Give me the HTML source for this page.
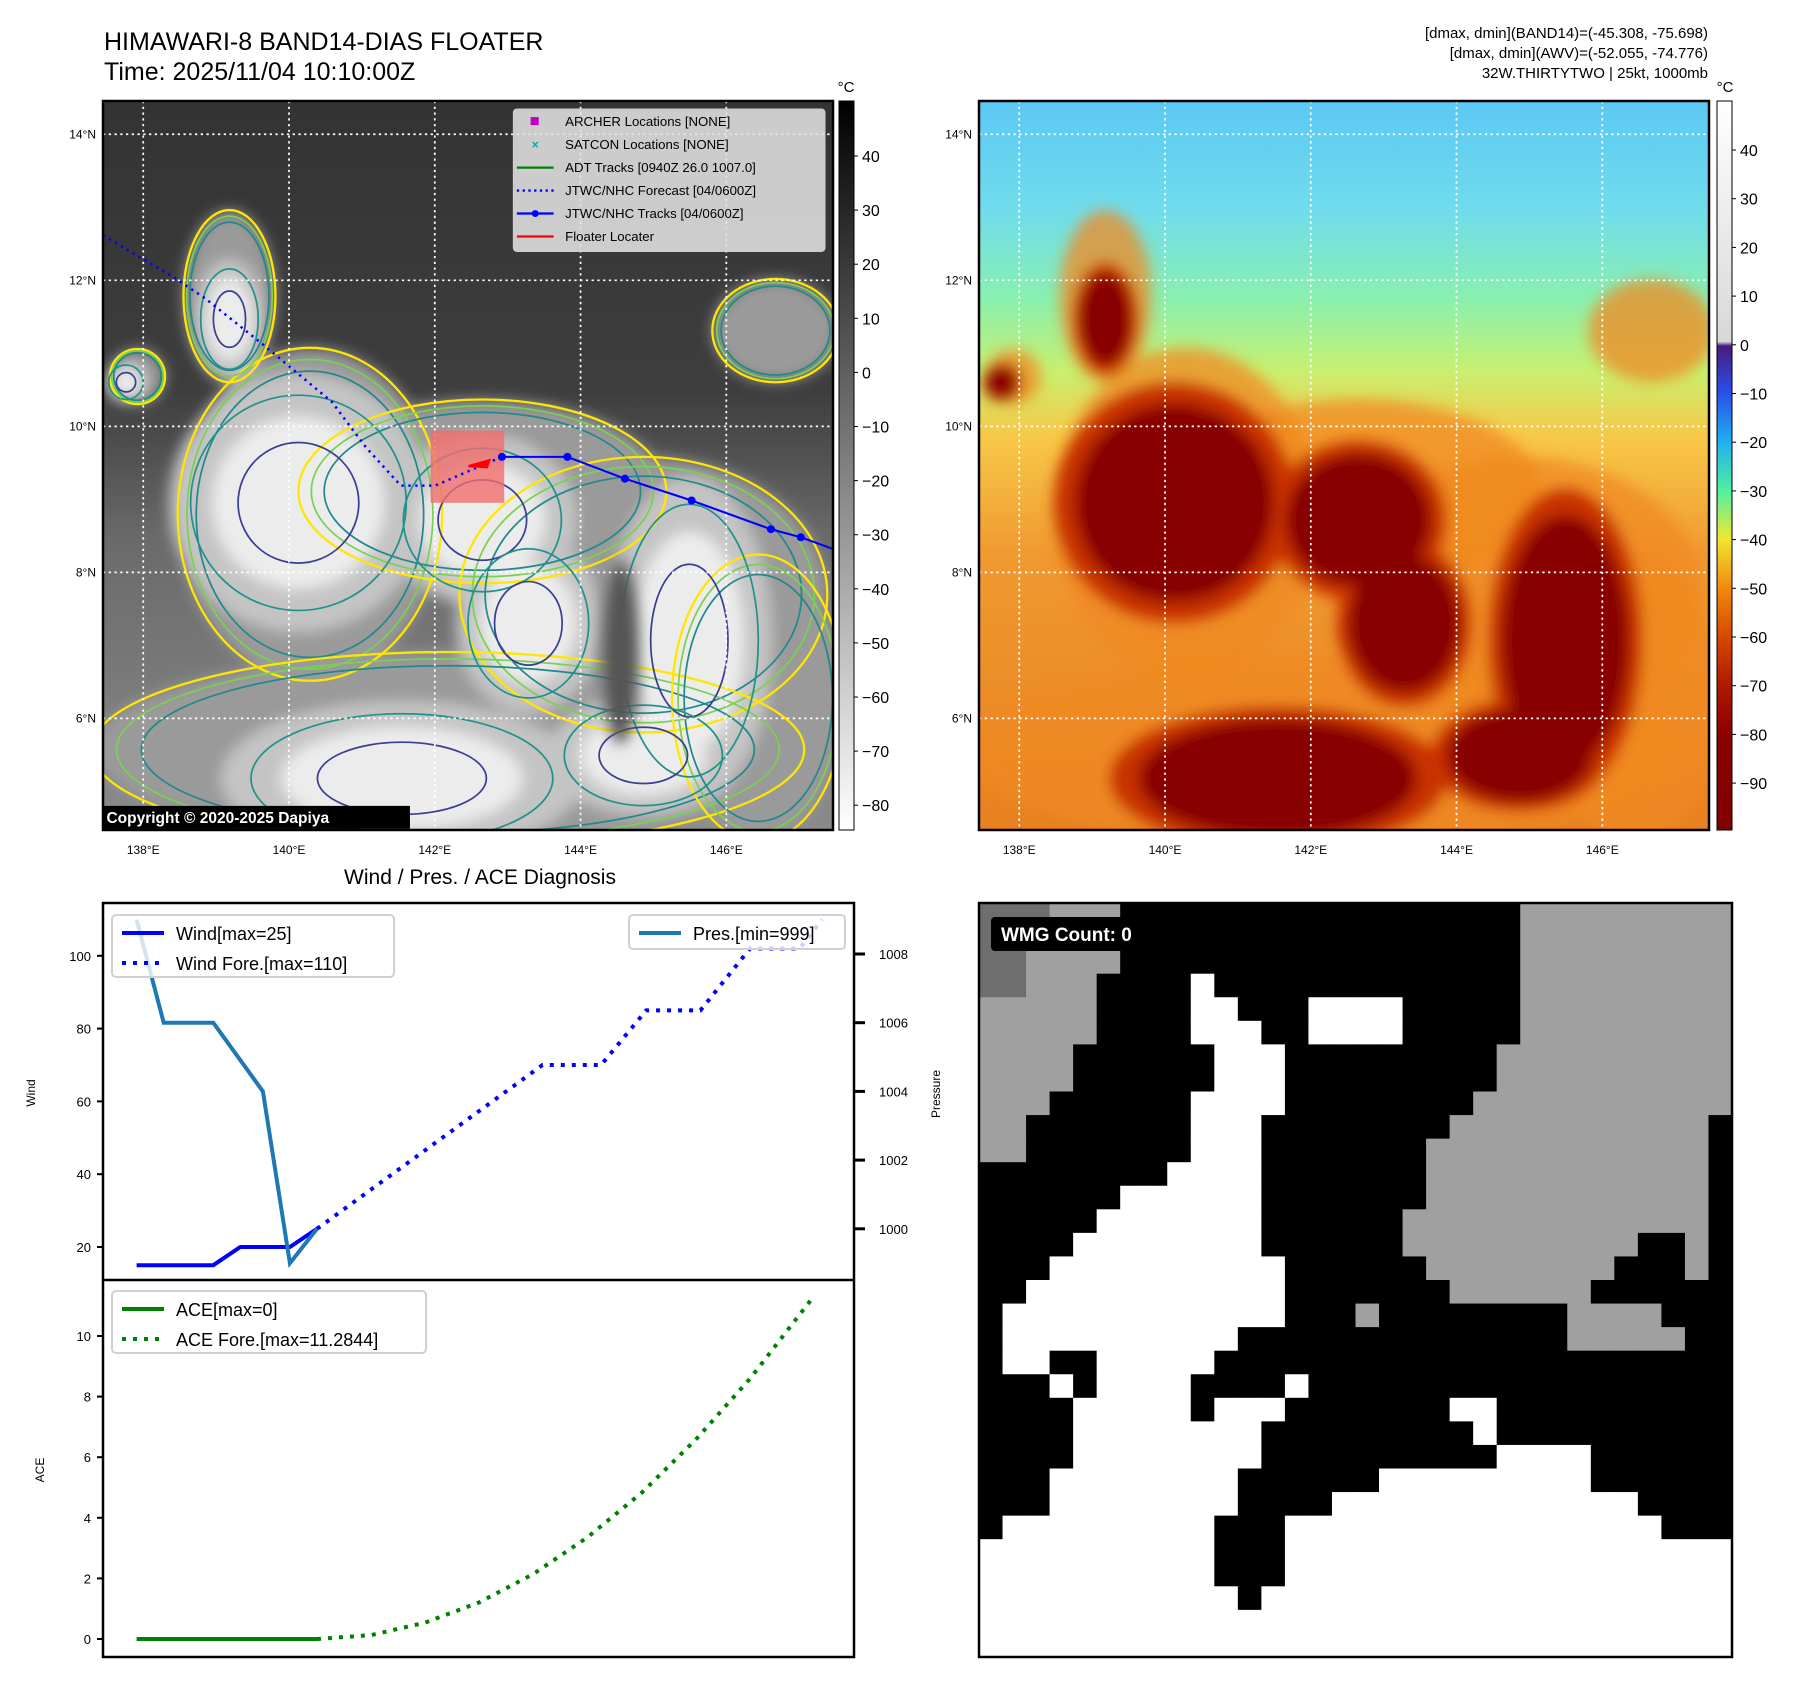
<!DOCTYPE html>
<html><head><meta charset="utf-8">
<style>
html,body{margin:0;padding:0;background:#fff;}
svg{display:block;font-family:"Liberation Sans","DejaVu Sans",sans-serif;}
</style></head>
<body>
<svg id="root" width="1797" height="1690" viewBox="0 0 1797 1690" xmlns="http://www.w3.org/2000/svg">
<defs>
  <filter id="blur6" x="-30%" y="-30%" width="160%" height="160%"><feGaussianBlur stdDeviation="6"/></filter>
  <filter id="blur3" x="-30%" y="-30%" width="160%" height="160%"><feGaussianBlur stdDeviation="3"/></filter>
  <linearGradient id="cbGray" x1="0" y1="0" x2="0" y2="1">
    <stop offset="0" stop-color="#000"/><stop offset="1" stop-color="#fff"/>
  </linearGradient>
  <linearGradient id="cbColor" x1="0" y1="0" x2="0" y2="1">
    <stop offset="0" stop-color="#ffffff"/>
    <stop offset="0.33" stop-color="#d8d8d8"/>
    <stop offset="0.336" stop-color="#4a1a80"/>
    <stop offset="0.40" stop-color="#2850e8"/>
    <stop offset="0.468" stop-color="#20b0f0"/>
    <stop offset="0.535" stop-color="#50f0a0"/>
    <stop offset="0.60" stop-color="#f0e830"/>
    <stop offset="0.668" stop-color="#f08a10"/>
    <stop offset="0.735" stop-color="#d84800"/>
    <stop offset="0.802" stop-color="#b01800"/>
    <stop offset="0.869" stop-color="#8c0000"/>
    <stop offset="1" stop-color="#800000"/>
  </linearGradient>
  <linearGradient id="rightBg" x1="0" y1="0" x2="0" y2="1">
    <stop offset="0" stop-color="#5cc8f4"/>
    <stop offset="0.15" stop-color="#70dcec"/>
    <stop offset="0.27" stop-color="#88f0b0"/>
    <stop offset="0.37" stop-color="#c8f070"/>
    <stop offset="0.46" stop-color="#f8c848"/>
    <stop offset="0.62" stop-color="#f09a30"/>
    <stop offset="1" stop-color="#e88020"/>
  </linearGradient>
  <linearGradient id="leftBg" x1="0" y1="0" x2="0" y2="1">
    <stop offset="0" stop-color="#333"/>
    <stop offset="0.4" stop-color="#3e3e3e"/>
    <stop offset="0.6" stop-color="#6a6a6a"/>
    <stop offset="1" stop-color="#8a8a8a"/>
  </linearGradient>
  <clipPath id="clipTop"><rect x="103" y="903" width="751" height="377"/></clipPath>
  <clipPath id="clipBot"><rect x="103" y="1280" width="751" height="377"/></clipPath>
</defs>

<text x="104" y="50" font-size="25" fill="#000">HIMAWARI-8 BAND14-DIAS FLOATER</text>
<text x="104" y="80" font-size="25" fill="#000">Time: 2025/11/04 10:10:00Z</text>
<g font-size="15" text-anchor="end" fill="#000">
  <text x="1708" y="38">[dmax, dmin](BAND14)=(-45.308, -75.698)</text>
  <text x="1708" y="58">[dmax, dmin](AWV)=(-52.055, -74.776)</text>
  <text x="1708" y="78">32W.THIRTYTWO | 25kt, 1000mb</text>
</g>

<svg id="leftMap" x="103" y="101" width="730" height="729" viewBox="0 0 635 635" preserveAspectRatio="none">
  <rect x="0" y="0" width="635" height="635" fill="url(#leftBg)"/>
  <g id="leftClouds"></g>
  <g id="leftGrid"></g>
  <g id="leftTracks"></g>
</svg>
<rect x="103" y="101" width="730" height="729" fill="none" stroke="#000" stroke-width="2.5"/>

<svg id="rightMap" x="979" y="101" width="730" height="729" viewBox="0 0 635 635" preserveAspectRatio="none">
  <rect x="0" y="0" width="635" height="635" fill="url(#rightBg)"/>
  <g id="rightClouds"></g>
  <g id="rightGrid"></g>
</svg>
<rect x="979" y="101" width="730" height="729" fill="none" stroke="#000" stroke-width="2.5"/>

<rect x="839" y="101" width="15" height="729" fill="url(#cbGray)" stroke="#000" stroke-width="1"/>
<text x="846" y="92" font-size="15" text-anchor="middle">°C</text>
<rect x="1717" y="101" width="15" height="729" fill="url(#cbColor)" stroke="#000" stroke-width="1"/>
<text x="1725" y="92" font-size="15" text-anchor="middle">°C</text>
<g id="cbTicks"></g>

<g id="mapLabels" font-size="12" fill="#000"></g>

<text x="480" y="884" font-size="21" text-anchor="middle">Wind / Pres. / ACE Diagnosis</text>
<rect x="103" y="903" width="751" height="754" fill="#fff"/>
<g id="chart"></g>
<rect x="103" y="903" width="751" height="754" fill="none" stroke="#000" stroke-width="2.5"/>
<line x1="103" y1="1280" x2="854" y2="1280" stroke="#000" stroke-width="2.5"/>
<text transform="translate(35,1093) rotate(-90)" font-size="12" text-anchor="middle">Wind</text>
<text transform="translate(940,1094) rotate(-90)" font-size="12" text-anchor="middle">Pressure</text>
<text transform="translate(44,1470) rotate(-90)" font-size="12" text-anchor="middle">ACE</text>

<g id="wmg"></g>
<rect x="979" y="903" width="753" height="754" fill="none" stroke="#000" stroke-width="2.5"/>
<rect x="991" y="917" width="182" height="34" rx="4" fill="#000"/>
<text x="1001" y="941" font-size="19" font-weight="bold" fill="#fff">WMG Count: 0</text>
</svg>

<script>
const windObsT = [0, 17, 23, 34, 40];
const windObsV = [15, 15, 20, 20, 25];
const windForeT = [40, 90, 103, 113, 125, 136, 147, 152];
const windForeV = [25, 70, 70, 85, 85, 102, 102, 110];
const presT = [0, 6, 17, 28, 34, 40];
const presV = [1009.0, 1006.0, 1006.0, 1004.0, 999.0, 1000.0];
const aceObsT = [0, 40];
const aceObsV = [0, 0];
const aceForeT = [40, 52, 64, 76, 88, 100, 112, 124, 136, 150];
const aceForeV = [0, 0.13, 0.54, 1.21, 2.15, 3.36, 4.83, 6.58, 8.59, 11.28];
const windTicks = [20, 40, 60, 80, 100];
const presTicks = [1000, 1002, 1004, 1006, 1008];
const aceTicks = [0, 2, 4, 6, 8, 10];
const band14Ticks = [40, 30, 20, 10, 0, -10, -20, -30, -40, -50, -60, -70, -80];
const awvTicks = [40, 30, 20, 10, 0, -10, -20, -30, -40, -50, -60, -70, -80, -90];
const latTicks = [14, 12, 10, 8, 6];
const lonTicks = [138, 140, 142, 144, 146];

const NS = "http://www.w3.org/2000/svg";
function mk(tag, attrs, parent){ const e=document.createElementNS(NS,tag); for(const k in attrs) e.setAttribute(k, attrs[k]); if(parent) parent.appendChild(e); return e; }

const xT = t => 136.6 + t * 4.51;
const yWind = v => 1247 - (v - 20) * 3.64;
const yPres = p => 954 + (1008 - p) * 34.35;
const yAce = a => 1639 - a * 30.3;
const yB14 = v => 156 + (40 - v) * 5.41;
const yAwv = v => 150 + (40 - v) * 4.87;
const mx = lon => 35 + (lon - 138) * 63.4;
const my = lat => 29 + (14 - lat) * 63.6;
const lonPx = lon => 103 + mx(lon) * 730 / 635;
const latPx = lat => 101 + my(lat) * 729 / 635;

const chart = document.getElementById('chart');
function pts(ts, vs, fy){ return ts.map((t,i)=> xT(t).toFixed(1)+','+fy(vs[i]).toFixed(1)).join(' '); }

const gTicks = mk('g', {'font-size':'13'}, chart);
windTicks.forEach(v=>{
  const y=yWind(v);
  const l=mk('line',{x1:97,x2:103,y1:y,y2:y,stroke:'#000','stroke-width':2},gTicks);
  
  
  const t=mk('text',{x:91,y:y+5,'text-anchor':'end'},gTicks); t.textContent=v;
  
  
});
presTicks.forEach(v=>{
  const y=yPres(v);
  const l=mk('line',{x1:854,x2:865,y1:y,y2:y,stroke:'#000','stroke-width':3},gTicks);
  
  
  const t=mk('text',{x:879,y:y+5},gTicks); t.textContent=v;
  
  
});
aceTicks.forEach(v=>{
  const y=yAce(v);
  const l=mk('line',{x1:97,x2:103,y1:y,y2:y,stroke:'#000','stroke-width':2},gTicks);
  
  
  const t=mk('text',{x:91,y:y+5,'text-anchor':'end'},gTicks); t.textContent=v;
  
  
});

const gTop = mk('g', {'clip-path':'url(#clipTop)'}, chart);
const gBot = mk('g', {'clip-path':'url(#clipBot)'}, chart);
let s;
s = mk('polyline',{points:pts(windForeT,windForeV,yWind),fill:'none',stroke:'#0000ff','stroke-width':4,'stroke-dasharray':'4 7'},gTop);


s = mk('polyline',{points:pts(windObsT,windObsV,yWind),fill:'none',stroke:'#0000ff','stroke-width':4},gTop);


s = mk('polyline',{points:pts(presT,presV,yPres),fill:'none',stroke:'#1f77b4','stroke-width':4},gTop);


s = mk('polyline',{points:pts(aceForeT,aceForeV,yAce),fill:'none',stroke:'#008000','stroke-width':4,'stroke-dasharray':'4 7'},gBot);


s = mk('polyline',{points:pts(aceObsT,aceObsV,yAce),fill:'none',stroke:'#008000','stroke-width':4},gBot);



function legend(x,y,w,h,items,name){
  const g=mk('g',{},chart);
  
  
  mk('rect',{x:x,y:y,width:w,height:h,rx:4,fill:'rgba(255,255,255,0.8)',stroke:'#d0d0d0','stroke-width':2},g);
  items.forEach((it,i)=>{
    const cy=y+18+i*30;
    const ln=mk('line',{x1:x+10,x2:x+52,y1:cy,y2:cy,stroke:it.c,'stroke-width':4},g);
    if(it.d) ln.setAttribute('stroke-dasharray','4 7');
    const t=mk('text',{x:x+64,y:cy+7,'font-size':'18'},g); t.textContent=it.t;
    
    
  });
}
legend(112,915,282,62,[{c:'#0000ff',t:'Wind[max=25]'},{c:'#0000ff',t:'Wind Fore.[max=110]',d:1}],'wind-legend');
legend(629,915,216,34,[{c:'#1f77b4',t:'Pres.[min=999]'}],'pressure-legend');
legend(112,1291,314,62,[{c:'#008000',t:'ACE[max=0]'},{c:'#008000',t:'ACE Fore.[max=11.2844]',d:1}],'ace-legend');

const cbT=document.getElementById('cbTicks');
band14Ticks.forEach(v=>{
  const y=yB14(v);
  mk('line',{x1:854,x2:858,y1:y,y2:y,stroke:'#000','stroke-width':1},cbT);
  const t=mk('text',{x:862,y:y+6,'font-size':'16'},cbT); t.textContent=(v<0?'\u2212'+(-v):v);
  
  
});
awvTicks.forEach(v=>{
  const y=yAwv(v);
  mk('line',{x1:1732,x2:1736,y1:y,y2:y,stroke:'#000','stroke-width':1},cbT);
  const t=mk('text',{x:1740,y:y+6,'font-size':'16'},cbT); t.textContent=(v<0?'\u2212'+(-v):v);
  
  
});

const ml=document.getElementById('mapLabels');
[0,876].forEach(off=>{
  latTicks.forEach(la=>{
    const t=mk('text',{x:96+off,y:latPx(la)+4,'text-anchor':'end'},ml); t.textContent=la+'°N';
    
    
  });
  lonTicks.forEach(lo=>{
    const t=mk('text',{x:lonPx(lo)+off,y:854,'text-anchor':'middle'},ml); t.textContent=lo+'°E';
    
    
  });
});

const cloudOuter = [[180,360,115,145],[330,340,160,80],[470,430,160,120],[300,565,310,85],[585,200,55,45],[110,170,40,75],[30,240,24,24],[570,520,75,125]];
const cloudCores = [[170,350,75,75],[330,365,55,50],[370,455,42,52],[510,470,48,95],[260,590,105,45],[470,570,55,35],[110,190,20,35],[20,245,12,12]];

function drawClouds(g, colors, coreScale, midScale, strokes, outerOpacity){
  const gf=mk('g',{filter:'url(#blur6)'},g);
  cloudOuter.forEach(c=>mk('ellipse',{cx:c[0],cy:c[1],rx:c[2],ry:c[3],fill:colors[0],'fill-opacity':outerOpacity},gf));
  cloudCores.forEach(c=>mk('ellipse',{cx:c[0],cy:c[1],rx:c[2]*midScale,ry:c[3]*midScale,fill:colors[1]},gf));
  cloudCores.forEach(c=>mk('ellipse',{cx:c[0],cy:c[1],rx:c[2]*coreScale,ry:c[3]*coreScale,fill:colors[2]},gf));
  if(strokes){
    cloudOuter.forEach(c=>{
      mk('ellipse',{cx:c[0],cy:c[1],rx:c[2],ry:c[3],fill:'none',stroke:'#ffe600','stroke-width':2},g);
      mk('ellipse',{cx:c[0],cy:c[1],rx:c[2]*0.93,ry:c[3]*0.93,fill:'none',stroke:'#7ad151','stroke-width':1.5},g);
      mk('ellipse',{cx:c[0],cy:c[1],rx:c[2]*0.86,ry:c[3]*0.86,fill:'none',stroke:'#22888a','stroke-width':1.5},g);
    });
    cloudCores.forEach(c=>{
      mk('ellipse',{cx:c[0],cy:c[1],rx:c[2]*1.25,ry:c[3]*1.25,fill:'none',stroke:'#21918c','stroke-width':1.5},g);
      mk('ellipse',{cx:c[0],cy:c[1],rx:c[2]*0.7,ry:c[3]*0.7,fill:'none',stroke:'#3b3f8f','stroke-width':1.5},g);
    });
  }
}
const lc=document.getElementById('leftClouds');
drawClouds(lc,['#9a9a9a','#c4c4c4','#ececec'],1.0,1.5,true,1);
mk('ellipse',{cx:450,cy:480,rx:16,ry:80,fill:'#555',filter:'url(#blur6)'},lc);
const rc=document.getElementById('rightClouds');
drawClouds(rc,['#f08a20','#c83000','#880000'],1.15,1.4,false,0.75);

function grid(g){
  lonTicks.forEach(lo=>mk('line',{x1:mx(lo),x2:mx(lo),y1:0,y2:635,stroke:'#fff','stroke-width':1.5,'stroke-dasharray':'2 3'},g));
  latTicks.forEach(la=>mk('line',{x1:0,x2:635,y1:my(la),y2:my(la),stroke:'#fff','stroke-width':1.5,'stroke-dasharray':'2 3'},g));
}
grid(document.getElementById('leftGrid'));
grid(document.getElementById('rightGrid'));

const foreTrack = [[0,117],[59,152],[89,172],[139,212],[199,262],[229,302],[259,335],[289,335],[319,322],[347,310]];
const bestTrack = [[347,310],[404,310],[454,329],[512,348],[581,373],[607,380],[640,392]];
const lt=document.getElementById('leftTracks');
const fl=mk('rect',{x:285,y:287,width:64,height:63,fill:'rgba(240,110,110,0.8)'},lt);


s=mk('polyline',{points:foreTrack.map(p=>p.join(',')).join(' '),fill:'none',stroke:'#0000ff','stroke-width':2.2,'stroke-dasharray':'2 4'},lt);


s=mk('polyline',{points:bestTrack.map(p=>p.join(',')).join(' '),fill:'none',stroke:'#0000ff','stroke-width':1.8},lt);


bestTrack.forEach(p=>mk('circle',{cx:p[0],cy:p[1],r:3.5,fill:'#0000ff'},lt));
mk('path',{d:'M318 318 L336 313 L334 319 Z',fill:'#ff0000',stroke:'#ff0000','stroke-width':2},lt);
const lg=mk('g',{},lt);


mk('rect',{x:357,y:7,width:271,height:124,rx:3,fill:'rgba(225,225,225,0.88)',stroke:'#ccc'},lg);
const li=[['sq','#c000c0','ARCHER Locations [NONE]'],['x','#00b0b0','SATCON Locations [NONE]'],['l','#008000','ADT Tracks [0940Z 26.0 1007.0]'],['d','#0000ff','JTWC/NHC Forecast [04/0600Z]'],['m','#0000ff','JTWC/NHC Tracks [04/0600Z]'],['l','#ff0000','Floater Locater']];
li.forEach((it,i)=>{
  const cy=18+i*20;
  if(it[0]==='sq') mk('rect',{x:372,y:cy-4,width:7,height:7,fill:it[1]},lg);
  else if(it[0]==='x'){ const t=mk('text',{x:376,y:cy+4,'font-size':'11','text-anchor':'middle',fill:it[1],'font-weight':'bold'},lg); t.textContent='×'; }
  else {
    const l=mk('line',{x1:360,x2:392,y1:cy,y2:cy,stroke:it[1],'stroke-width':2},lg);
    if(it[0]==='d') l.setAttribute('stroke-dasharray','2 3');
    if(it[0]==='m') mk('circle',{cx:376,cy:cy,r:3,fill:it[1]},lg);
  }
  const t=mk('text',{x:402,y:cy+4,'font-size':'11.5',fill:'#000'},lg); t.textContent=it[2];
  
  
});
const cp=mk('g',{},lt);


mk('rect',{x:-2,y:614,width:269,height:20,fill:'#000'},cp);
const ct=mk('text',{x:3,y:629,'font-size':'13.5','font-weight':'bold',fill:'#fff'},cp); ct.textContent='Copyright © 2020-2025 Dapiya';

const wmgRows = [
"DDDGGGKKKKKKKKKKKKKKKKKGGGGGGGGG",
"DDDGGGKKKKKKKKKKKKKKKKKGGGGGGGGG",
"DDGGGGKKKKKKKKKKKKKKKKKGGGGGGGGG",
"DDGGGKKKKWKKKKKKKKKKKKKGGGGGGGGG",
"GGGGGKKKKWWKKKWWWWKKKKKGGGGGGGGG",
"GGGGGKKKKWWWKKWWWWKKKKKGGGGGGGGG",
"GGGGKKKKKKWWWKKKKKKKKKGGGGGGGGGG",
"GGGGKKKKKKWWWKKKKKKKKKGGGGGGGGGG",
"GGGKKKKKKWWWWKKKKKKKKGGGGGGGGGGG",
"GGKKKKKKKWWWKKKKKKKKGGGGGGGGGGGK",
"GGKKKKKKKWWWKKKKKKKGGGGGGGGGGGGK",
"KKKKKKKKWWWWKKKKKKKGGGGGGGGGGGGK",
"KKKKKKWWWWWWKKKKKKKGGGGGGGGGGGGK",
"KKKKKWWWWWWWKKKKKKGGGGGGGGGGGGGK",
"KKKKWWWWWWWWKKKKKKGGGGGGGGGGKKGK",
"KKKWWWWWWWWWWKKKKKKGGGGGGGGKKKGK",
"KKWWWWWWWWWWWKKKKKKKGGGGGGKKKKKK",
"KWWWWWWWWWWWWKKKGKKKKKKKKGGGGKKK",
"KWWWWWWWWWWKKKKKKKKKKKKKKGGGGGKK",
"KWWKKWWWWWKKKKKKKKKKKKKKKKKKKKKK",
"KKKWKWWWWKKKKWKKKKKKKKKKKKKKKKKK",
"KKKKWWWWWKWWWKKKKKKKWWKKKKKKKKKK",
"KKKKWWWWWWWWKKKKKKKKKWKKKKKKKKKK",
"KKKKWWWWWWWWKKKKKKKKKKWWWWKKKKKK",
"KKKWWWWWWWWKKKKKKWWWWWWWWWKKKKKK",
"KKKWWWWWWWWKKKKWWWWWWWWWWWWWKKKK",
"KWWWWWWWWWKKKWWWWWWWWWWWWWWWWKKK",
"WWWWWWWWWWKKKWWWWWWWWWWWWWWWWWWW",
"WWWWWWWWWWKKKWWWWWWWWWWWWWWWWWWW",
"WWWWWWWWWWWKWWWWWWWWWWWWWWWWWWWW",
"WWWWWWWWWWWWWWWWWWWWWWWWWWWWWWWW",
"WWWWWWWWWWWWWWWWWWWWWWWWWWWWWWWW"];
const wmgColors = {W:'#ffffff',K:'#000000',G:'#a0a0a0',D:'#6e6e6e'};
const wg=document.getElementById('wmg');


const cw=753/32, ch=754/32;
wmgRows.forEach((row,r)=>{
  for(let c=0;c<row.length;c++){
    mk('rect',{x:(979+c*cw).toFixed(2),y:(903+r*ch).toFixed(2),width:(cw+0.6).toFixed(2),height:(ch+0.6).toFixed(2),fill:wmgColors[row[c]]},wg);
  }
});
</script>
</body></html>
